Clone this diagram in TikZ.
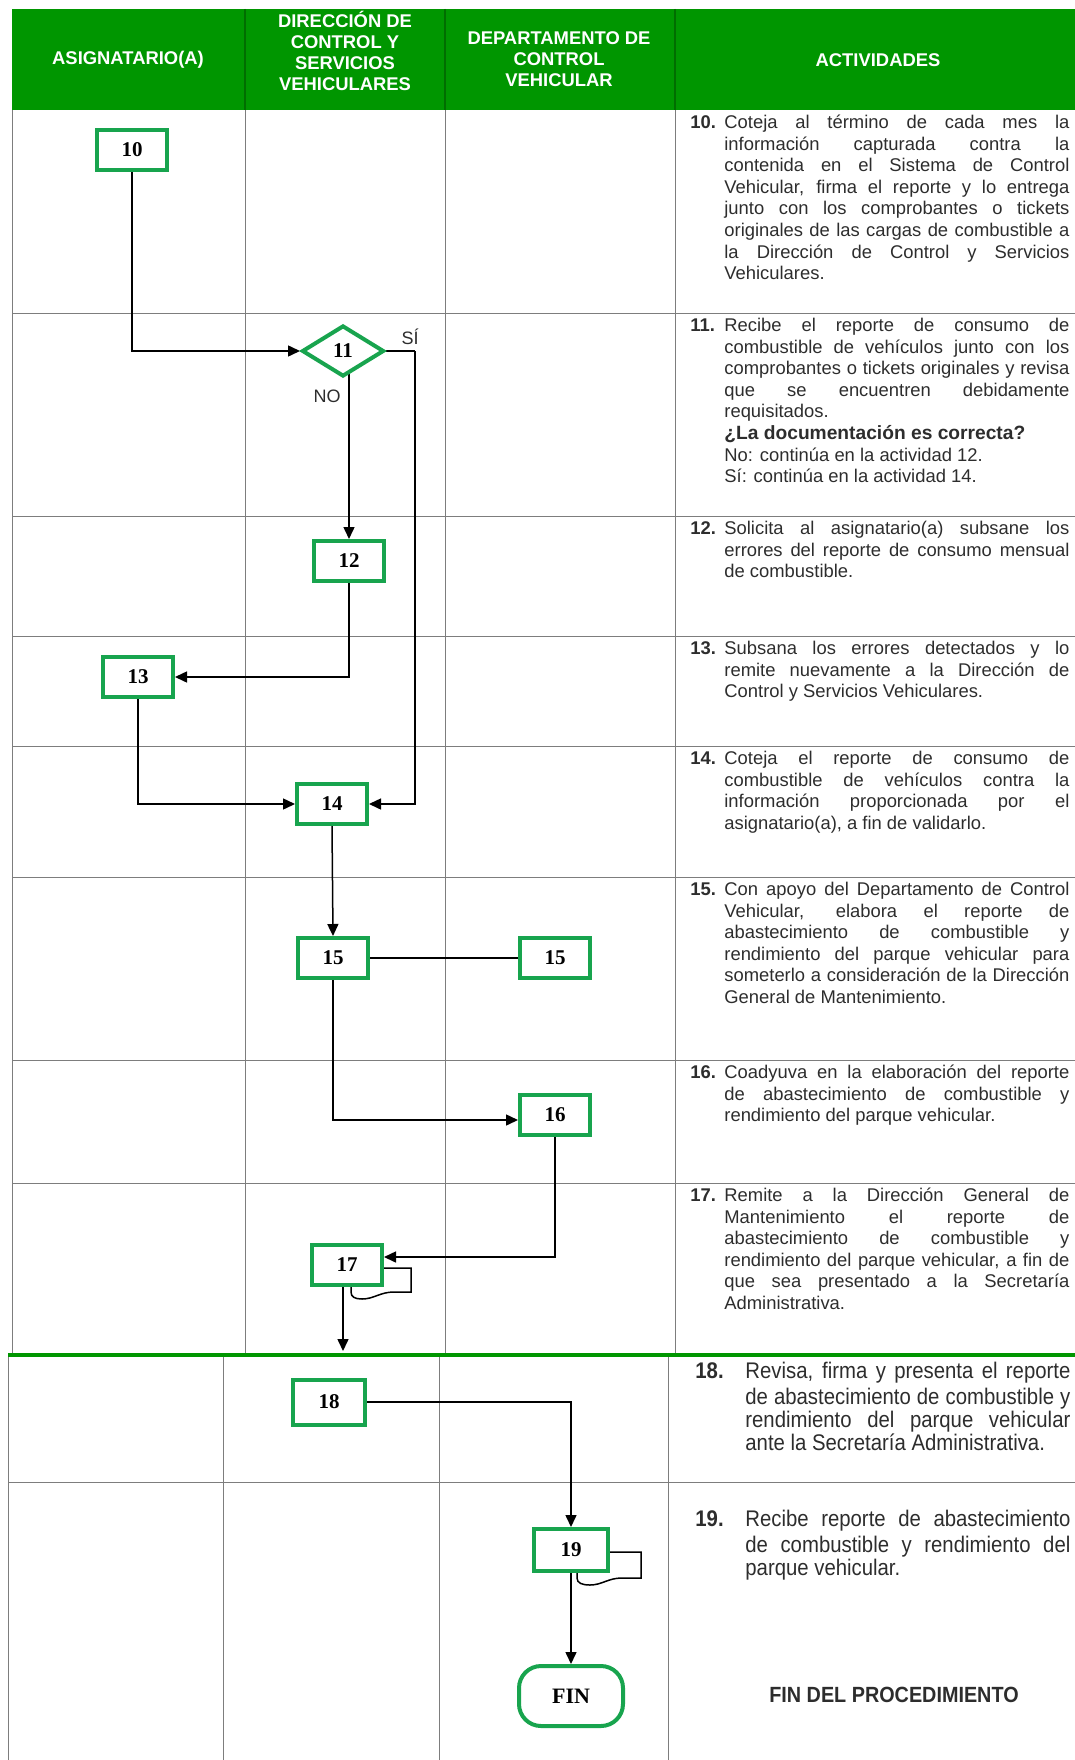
\documentclass[tikz,border=0pt]{standalone}
\usepackage{fontspec}
\setmainfont{Liberation Sans}
\newfontfamily\boxfont{Liberation Serif}
\newfontfamily\narrowfont[FakeStretch=0.9]{Liberation Sans}
\usetikzlibrary{arrows.meta,calc,shapes.geometric}
\pgfdeclarelayer{bg}
\pgfsetlayers{bg,main}
\definecolor{hdrgreen}{RGB}{0,150,0}
\definecolor{hdrline}{RGB}{0,110,0}
\definecolor{boxgreen}{RGB}{24,164,78}
\definecolor{gridgray}{RGB}{125,125,125}
\definecolor{txt}{RGB}{45,45,45}
\AtBeginDocument{\tolerance=10000 \hyphenpenalty=10000 \hbadness=10000 \hfuzz=3pt}
\begin{document}
\begin{tikzpicture}[x=0.5pt,y=-0.5pt,
  stepbox/.style={draw=boxgreen,line width=2pt,fill=white,minimum width=35pt,minimum height=20pt,inner sep=0pt,font=\boxfont\bfseries\fontsize{10.5}{12}\selectfont},
  decision/.style={diamond,draw=boxgreen,line width=2pt,fill=white,minimum width=41pt,minimum height=25.5pt,inner sep=0pt,font=\boxfont\bfseries\fontsize{10.5}{12}\selectfont},
  endbox/.style={draw=boxgreen,line width=2pt,fill=white,rounded corners=11pt,minimum width=52pt,minimum height=30pt,inner sep=0pt,font=\boxfont\bfseries\fontsize{11}{13}\selectfont},
  hdr/.style={text=white,align=center,inner sep=0pt,font=\bfseries\fontsize{9.2}{10.5}\selectfont},
  actnum/.style={anchor=north west,inner sep=0pt,text=txt,font=\bfseries\fontsize{9.2}{10.8}\selectfont},
  acttext/.style={anchor=north west,inner sep=0pt,text width=172.5pt,align=justify,text=txt,font=\fontsize{9.2}{10.8}\selectfont},
  lownum/.style={anchor=north west,inner sep=0pt,text=txt,font=\narrowfont\bfseries\fontsize{11.3}{11.5}\selectfont},
  lowtext/.style={anchor=north west,inner sep=0pt,text width=162.5pt,align=justify,text=txt,font=\narrowfont\fontsize{11.3}{11.5}\selectfont},
  lbl/.style={inner sep=0pt,text=txt,font=\fontsize{9}{10}\selectfont},
  grid/.style={draw=gridgray,line width=0.5pt},
  conn/.style={draw=black,line width=0.75pt},
  arr/.style={conn,-{Triangle[length=6pt,width=5.5pt]}}]
\useasboundingbox (0,0) rectangle (1075,1760);

% ---------- header ----------
\fill[hdrgreen] (12,9) rectangle (1075,110);
\foreach \x in {245,445,675} \draw[hdrline,line width=0.6pt] (\x,9) -- (\x,110);
\node[hdr] (h1) at (128,60) {ASIGNATARIO(A)};
\node[hdr] (h2) at (345,51) {DIRECCIÓN DE\\CONTROL Y\\SERVICIOS\\VEHICULARES};
\node[hdr] (h3) at (559,59) {DEPARTAMENTO DE\\CONTROL\\VEHICULAR};
\node[hdr] (h4) at (878,60) {ACTIVIDADES};

% ---------- grid ----------
\begin{pgfonlayer}{bg}
\draw[grid] (12,110) -- (12,1355);
\foreach \x in {245,445,675} \draw[grid] (\x,110) -- (\x,1355);
\foreach \y in {313,516,636,746,877,1060,1183} \draw[grid] (12,\y) -- (1075,\y);
\foreach \x in {8,223,439,668} \draw[grid] (\x,1355) -- (\x,1760);
\draw[grid] (8,1482) -- (1075,1482);
\end{pgfonlayer}
\draw[hdrgreen,line width=2pt] (8,1355) -- (1075,1355);

% ---------- flow nodes ----------
\node[stepbox] (n10) at (132,150) {10};
\node[decision] (n11) at (343,351) {11};
\node[stepbox] (n12) at (349,561) {12};
\node[stepbox] (n13) at (138,677) {13};
\node[stepbox] (n14) at (332,804) {14};
\node[stepbox] (n15) at (333,958) {15};
\node[stepbox] (n15b) at (555,958) {15};
\node[stepbox] (n16) at (555,1115) {16};
\node[stepbox] (n17) at (347,1265) {17};
\node[stepbox,minimum width=36pt,minimum height=22.5pt] (n18) at (329,1402) {18};
\node[stepbox,minimum width=37pt,minimum height=21pt] (n19) at (571,1550) {19};
\node[endbox] (fin) at (571,1696) {FIN};

\node[lbl] (si) at (410,337) {SÍ};
\node[lbl] (no) at (327,396) {NO};

\coordinate (c11) at (415,351);
\coordinate (e17) at (343,1351);
\coordinate (l17) at (351,1299);
\coordinate (l19) at (577,1585);

% ---------- connectors ----------
\begin{pgfonlayer}{bg}
\draw[arr] (n10.south) |- (n11.west);
\draw[arr] (n12.north |- n11.center) -- (n12.north);
\draw[conn] (n11.east) -- (c11);
\draw[arr] (c11) |- (n14.east);
\draw[arr] (n12.south) |- (n13.east);
\draw[arr] (n13.south) |- (n14.west);
\draw[arr] (n14.south) -- (n15.north);
\draw[conn] (n15.east) -- (n15b.west);
\draw[arr] (n15.south) |- ($(n16.west)+(0,5)$);
\draw[arr] (n16.south) |- ($(n17.east)+(0,-8)$);
\draw[conn] ($(n17.east)+(0,3)$) -- (411,1268) -- (411,1292) -- (394,1292)
   .. controls (380,1292) and (374,1299) .. (362,1299)
   .. controls (355,1299) and (351,1297) .. (351,1292) -- (l17 |- n17.south);
\draw[arr] (n17.south -| e17) -- (e17);
\draw[arr] (n18.east) -| (n19.north);
\draw[conn] ($(n19.east)+(0,2)$) -- (641,1552) -- (641,1578) -- (622,1578)
   .. controls (608,1578) and (602,1585) .. (590,1585)
   .. controls (582,1585) and (577,1583) .. (577,1578) -- (l19 |- n19.south);
\draw[arr] (n19.south) -- (fin.north);
\end{pgfonlayer}

% ---------- activity texts ----------
\node[actnum] (k10) at (690,113) {\strut 10.};
\node[acttext] (t10) at (724,113) {\strut Coteja al término de cada mes la\linebreak información capturada contra la\linebreak contenida en el Sistema de Control\linebreak Vehicular, firma el reporte y lo entrega\linebreak junto con los comprobantes o tickets\linebreak originales de las cargas de combustible a\linebreak la Dirección de Control y Servicios\linebreak Vehiculares.};

\node[actnum] (k11) at (690,316) {\strut 11.};
\node[acttext] (t11) at (724,316) {\strut Recibe el reporte de consumo de\linebreak combustible de vehículos junto con los\linebreak comprobantes o tickets originales y revisa\linebreak que se encuentren debidamente\linebreak requisitados.\newline {\bfseries\fontsize{9.6}{10.8}\selectfont ¿La documentación es correcta?}\newline No: continúa en la actividad 12.\newline Sí: continúa en la actividad 14.};

\node[actnum] (k12) at (690,519) {\strut 12.};
\node[acttext] (t12) at (724,519) {\strut Solicita al asignatario(a) subsane los\linebreak errores del reporte de consumo mensual\linebreak de combustible.};

\node[actnum] (k13) at (690,639) {\strut 13.};
\node[acttext] (t13) at (724,639) {\strut Subsana los errores detectados y lo\linebreak remite nuevamente a la Dirección de\linebreak Control y Servicios Vehiculares.};

\node[actnum] (k14) at (690,749) {\strut 14.};
\node[acttext] (t14) at (724,749) {\strut Coteja el reporte de consumo de\linebreak combustible de vehículos contra la\linebreak información proporcionada por el\linebreak asignatario(a), a fin de validarlo.};

\node[actnum] (k15) at (690,880) {\strut 15.};
\node[acttext] (t15) at (724,880) {\strut Con apoyo del Departamento de Control\linebreak Vehicular, elabora el reporte de\linebreak abastecimiento de combustible y\linebreak rendimiento del parque vehicular para\linebreak someterlo a consideración de la Dirección\linebreak General de Mantenimiento.};

\node[actnum] (k16) at (690,1063) {\strut 16.};
\node[acttext] (t16) at (724,1063) {\strut Coadyuva en la elaboración del reporte\linebreak de abastecimiento de combustible y\linebreak rendimiento del parque vehicular.};

\node[actnum] (k17) at (690,1186) {\strut 17.};
\node[acttext] (t17) at (724,1186) {\strut Remite a la Dirección General de\linebreak Mantenimiento el reporte de\linebreak abastecimiento de combustible y\linebreak rendimiento del parque vehicular, a fin de\linebreak que sea presentado a la Secretaría\linebreak Administrativa.};

\node[lownum] (k18) at (695,1362) {\strut 18.};
\node[lowtext] (t18) at (745,1362) {\strut Revisa, firma y presenta el reporte\linebreak de abastecimiento de combustible y\linebreak rendimiento del parque vehicular\linebreak ante la Secretaría Administrativa.};

\node[lownum] (k19) at (695,1510) {\strut 19.};
\node[lowtext] (t19) at (745,1510) {\strut Recibe reporte de abastecimiento\linebreak de combustible y rendimiento del\linebreak parque vehicular.};

\node[inner sep=0pt,text=txt,font=\narrowfont\bfseries\fontsize{11}{13}\selectfont] (tfin) at (894,1695) {FIN DEL PROCEDIMIENTO};
\end{tikzpicture}
\end{document}
